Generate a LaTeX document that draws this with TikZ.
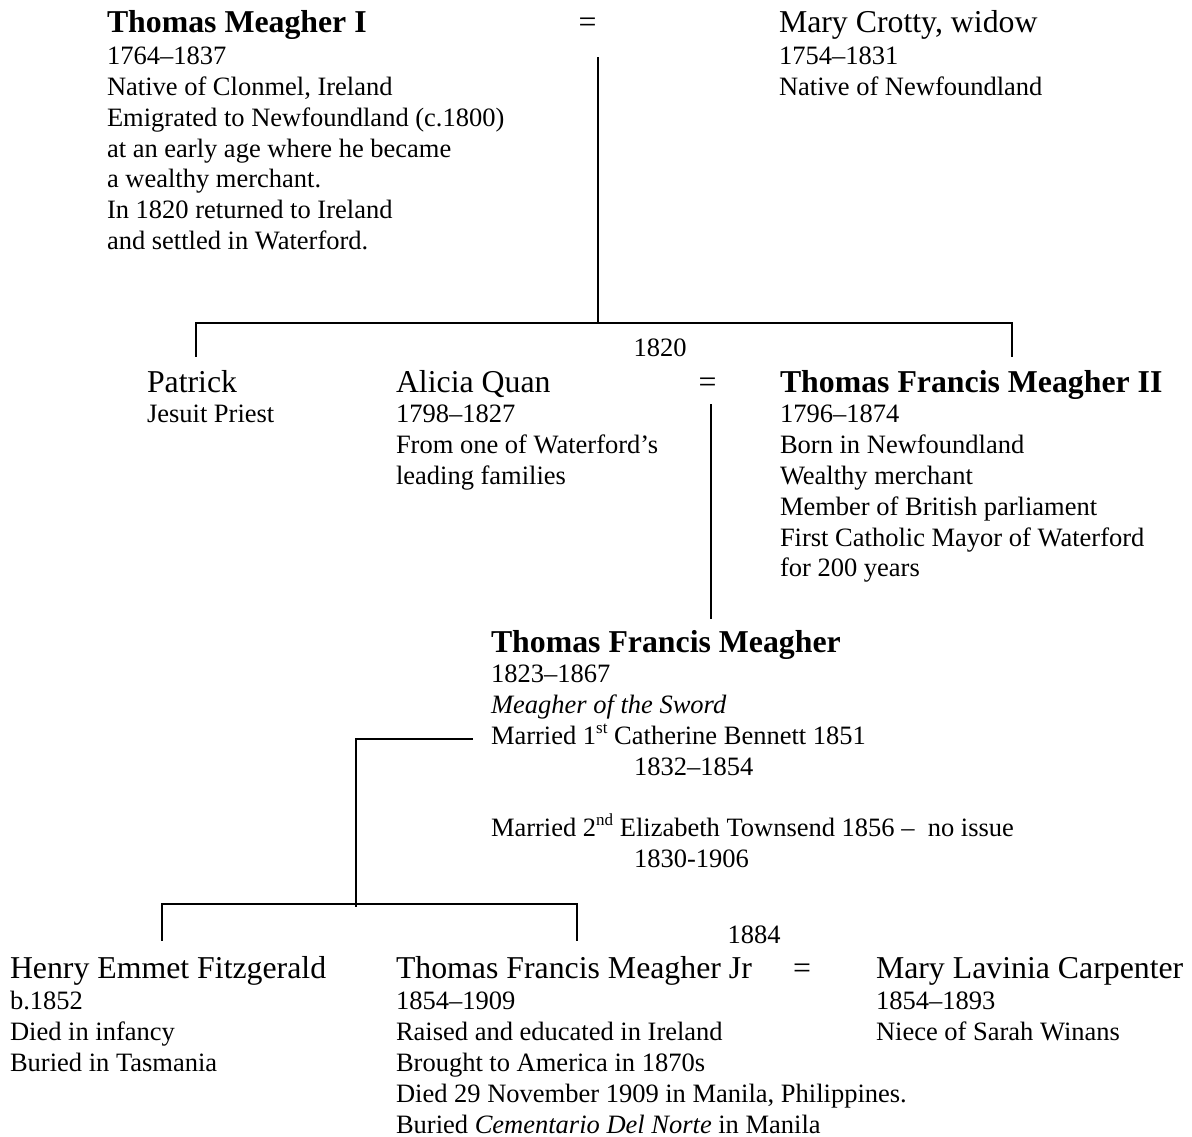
\documentclass[tikz,border=0pt]{standalone}
\usepackage{fontspec}
\setmainfont{Liberation Serif}
% type sizes (1pt of the picture = one unit of the grid)
\newcommand\famtxt{\fontsize{26.5}{30.8}\selectfont}
\newcommand\famhead{\fontsize{31.8}{30.8}\selectfont}
\newcommand\hb[1]{{\famhead\bfseries #1}}
\newcommand\hn[1]{{\famhead #1}}
\newcommand\sups[1]{\smash{\raisebox{0.42em}{\fontsize{17}{17}\selectfont #1}}}
\newenvironment{lines}{\begin{tabular}[t]{@{}l@{}}}{\end{tabular}}
\begin{document}
\begin{tikzpicture}[x=1pt,y=-1pt,
  blk/.style={anchor=base west,inner sep=0pt,outer sep=0pt,font=\famtxt},
  lbl/.style={anchor=base,inner sep=0pt,outer sep=0pt,font=\famtxt},
  eqsign/.style={anchor=base,inner sep=0pt,outer sep=0pt,font=\famhead},
  link/.style={line width=2pt,line cap=rect}]
\useasboundingbox (0,0) rectangle (1192,1137);

% ---- first generation ----
\node[blk] (tm1) at (107,33) {\begin{lines}
  \hb{Thomas Meagher I}\\[1pt]
  1764–1837\\
  Native of Clonmel, Ireland\\
  Emigrated to Newfoundland (c.1800)\\
  at an early age where he became\\
  a wealthy merchant.\\
  In 1820 returned to Ireland\\
  and settled in Waterford.
\end{lines}};
\node[eqsign] (eq1) at (587.5,33) {=};
\node[blk] (mc) at (779,33) {\begin{lines}
  \hn{Mary Crotty, widow}\\[1pt]
  1754–1831\\
  Native of Newfoundland
\end{lines}};

% ---- second generation ----
\node[lbl] (y1820) at (660,356) {1820};
\node[blk] (pat) at (147,392) {\begin{lines}
  \hn{Patrick}\\
  Jesuit Priest
\end{lines}};
\node[blk] (aq) at (396,392) {\begin{lines}
  \hn{Alicia Quan}\\
  1798–1827\\
  From one of Waterford’s\\
  leading families
\end{lines}};
\node[eqsign] (eq2) at (707.5,392) {=};
\node[blk] (tfm2) at (780,392) {\begin{lines}
  \hb{Thomas Francis Meagher II}\\
  1796–1874\\
  Born in Newfoundland\\
  Wealthy merchant\\
  Member of British parliament\\
  First Catholic Mayor of Waterford\\
  for 200 years
\end{lines}};

% ---- third generation ----
\node[blk] (tfm) at (491,652) {\begin{lines}
  \hb{Thomas Francis Meagher}\\
  1823–1867\\
  \textit{Meagher of the Sword}\\
  Married 1\sups{st} Catherine Bennett 1851\\
  \hspace*{143pt}1832–1854\\
  \\
  Married 2\sups{nd} Elizabeth Townsend 1856 –\ \ no issue\\
  \hspace*{143pt}1830-1906
\end{lines}};

% ---- fourth generation ----
\node[lbl] (y1884) at (754,943) {1884};
\node[blk] (hef) at (10,978) {\begin{lines}
  \hn{Henry Emmet Fitzgerald}\\[1pt]
  b.1852\\
  Died in infancy\\
  Buried in Tasmania
\end{lines}};
\node[blk] (tfmjr) at (396,978) {\begin{lines}
  \hn{Thomas Francis Meagher Jr}\\[1pt]
  1854–1909\\
  Raised and educated in Ireland\\
  Brought to America in 1870s\\
  Died 29 November 1909 in Manila, Philippines.\\
  Buried \textit{Cementario Del Norte} in Manila
\end{lines}};
\node[eqsign] (eq3) at (802,978) {=};
\node[blk] (mlc) at (876,978) {\begin{lines}
  \hn{Mary Lavinia Carpenter}\\[1pt]
  1854–1893\\
  Niece of Sarah Winans
\end{lines}};

% ---- connector points ----
\coordinate (u1) at (597.5,58);
\coordinate (u1b) at (597.5,323);
\coordinate (s1l) at (195.5,323);
\coordinate (s1r) at (1012,323);
\coordinate (s1ld) at (195.5,356);
\coordinate (s1rd) at (1012,356);
\coordinate (u2) at (711,405);
\coordinate (u2b) at (711,618);
\coordinate (w1) at (472,739);
\coordinate (w1c) at (356,739);
\coordinate (w1b) at (356,906);
\coordinate (s2l) at (162,904);
\coordinate (s2r) at (577,904);
\coordinate (s2ld) at (162,940);
\coordinate (s2rd) at (577,940);

% ---- lines of descent ----
\draw[link] (u1) -- (u1b);
\draw[link] (s1ld) -- (s1l) -- (s1r) -- (s1rd);
\draw[link] (u2) -- (u2b);
\draw[link] (w1) -- (w1c) -- (w1b);
\draw[link] (s2ld) -- (s2l) -- (s2r) -- (s2rd);
\end{tikzpicture}
\end{document}
